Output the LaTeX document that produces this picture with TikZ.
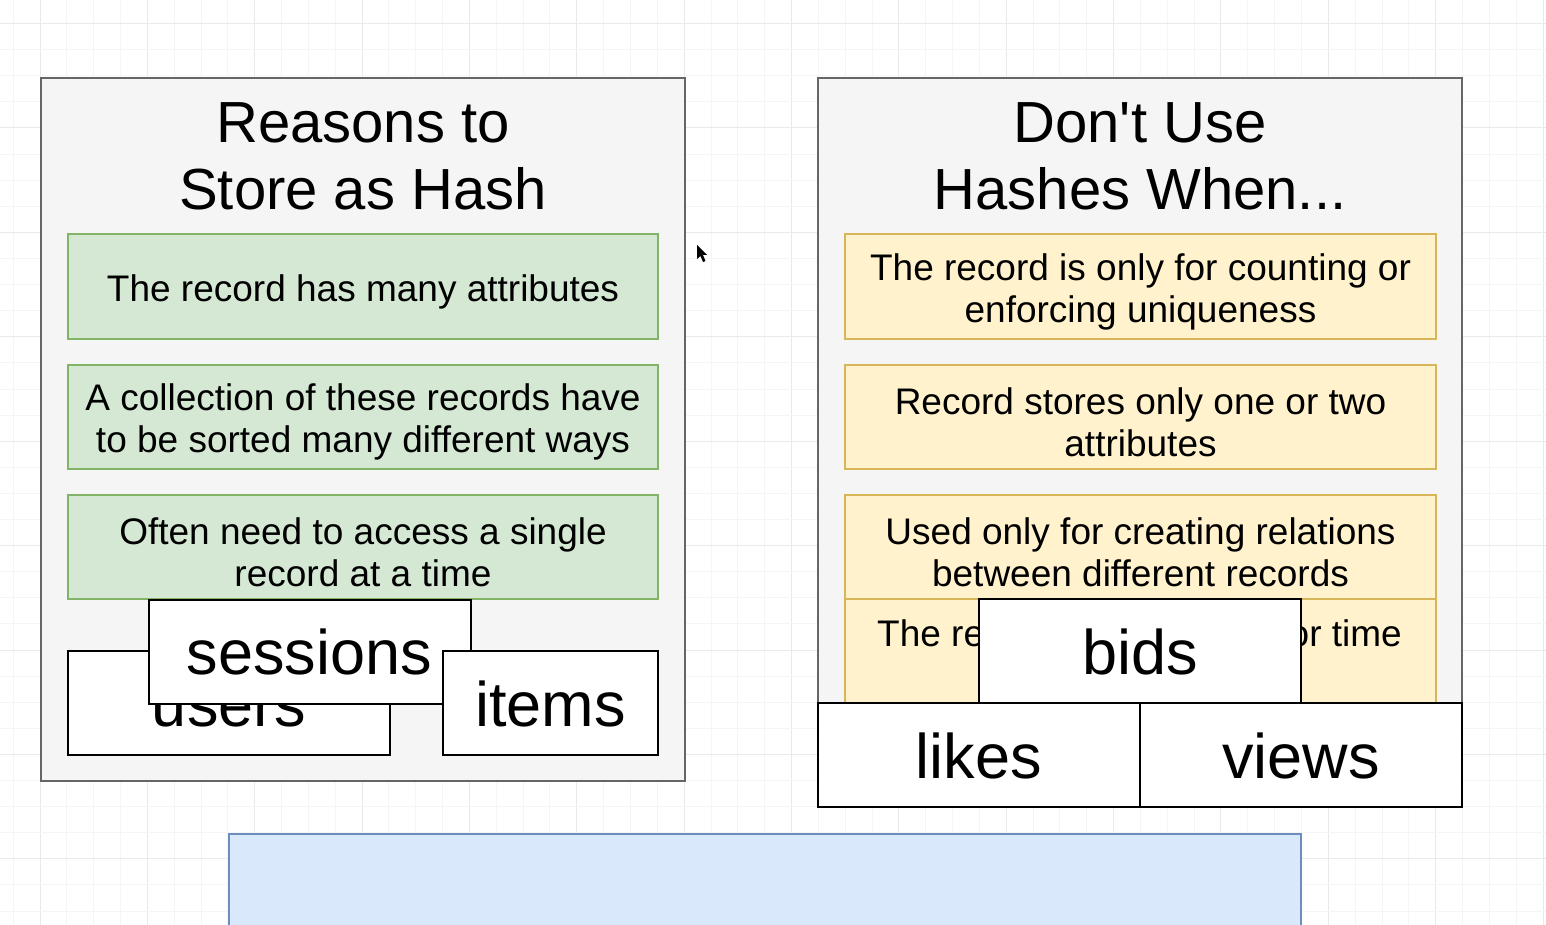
\documentclass[tikz,border=0pt]{standalone}
\usepackage{fontspec}
\setmainfont{Liberation Sans}[Ligatures=TeXOff]
\definecolor{panelfill}{HTML}{F5F5F5}
\definecolor{panelline}{HTML}{666666}
\definecolor{greenfill}{HTML}{D5E8D4}
\definecolor{greenline}{HTML}{82B366}
\definecolor{yellowfill}{HTML}{FFF2CC}
\definecolor{yellowline}{HTML}{D6B656}
\definecolor{bluefill}{HTML}{DAE8FC}
\definecolor{blueline}{HTML}{6C8EBF}
\definecolor{gridminor}{HTML}{F5F5F5}
\definecolor{gridmajor}{HTML}{EAEAEA}
\newcommand{\lowerstrut}{\rule{0pt}{37pt}}
\tikzset{
  panel/.style={draw=panelline, fill=panelfill, line width=2pt, inner sep=0pt,
    minimum width=644pt, minimum height=703pt},
  titletext/.style={inner sep=0pt, align=center, font=\fontsize{58}{67.5}\selectfont},
  greenbox/.style={draw=greenline, fill=greenfill, line width=2pt, inner sep=0pt,
    minimum width=590pt, minimum height=104pt, align=center,
    font=\fontsize{37}{42}\selectfont},
  yellowbox/.style={draw=yellowline, fill=yellowfill, line width=2pt, inner sep=0pt,
    minimum width=591pt, minimum height=104pt, align=center,
    font=\fontsize{37}{42}\selectfont},
  bodytext/.style={inner sep=0pt, font=\fontsize{37}{42}\selectfont},
  tablebox/.style={draw=black, fill=white, line width=2pt, inner sep=0pt,
    minimum width=322pt, minimum height=104pt, text height=46pt, text depth=0pt,
    font=\fontsize{63}{72}\selectfont},
  bluebox/.style={draw=blueline, fill=bluefill, line width=2pt, inner sep=0pt,
    minimum width=1072pt, minimum height=126pt}
}
\begin{document}
\begin{tikzpicture}[x=1pt,y=-1pt]
\clip (0,0) rectangle (1546,925);
\fill[white] (0,0) rectangle (1546,925);
% grid
\foreach \k in {-1,...,56}{
  \pgfmathtruncatemacro{\m}{mod(\k+4,4)}
  \ifnum\m=0 \draw[gridmajor, line width=1pt] ({40+26.84*\k},0) -- ({40+26.84*\k},925);
  \else \draw[gridminor, line width=1pt] ({40+26.84*\k},0) -- ({40+26.84*\k},925); \fi
}
\foreach \k in {-4,...,31}{
  \pgfmathtruncatemacro{\m}{mod(\k+8,4)}
  \ifnum\m=0 \draw[gridmajor, line width=1pt] (0,{128+26.1*\k}) -- (1546,{128+26.1*\k});
  \else \draw[gridminor, line width=1pt] (0,{128+26.1*\k}) -- (1546,{128+26.1*\k}); \fi
}
% left panel
\node[panel] (leftpanel) at (363,429.5) {};
\node[titletext, anchor=north] (lefttitle) at (363,102) {Reasons to\\Store as Hash};
\node[greenbox] (g1) at (363,286.5) {\lowerstrut The record has many attributes};
\node[greenbox] (g2) at (363,417) {\lowerstrut A collection of these records have\\to be sorted many different ways};
\node[greenbox] (g3) at (363,547) {\lowerstrut Often need to access a single\\record at a time};
\node[tablebox] (users) at (229,703) {users};
\node[tablebox] (sessions) at (309.5,651.5) {sessions};
\node[tablebox, minimum width=215pt] (items) at (550.5,703) {items};
% right panel
\node[panel] (rightpanel) at (1140,429.5) {};
\node[titletext, anchor=north] (righttitle) at (1140,102) {Don't Use\\Hashes When...};
\node[yellowbox] (y1) at (1140.5,286.5) {\lowerstrut The record is only for counting or\\enforcing uniqueness};
\node[yellowbox] (y2) at (1140.5,417) {\lowerstrut Record stores only one or two\\attributes};
\node[yellowbox] (y3) at (1140.5,547) {\lowerstrut Used only for creating relations\\between different records};
\node[yellowbox] (y4) at (1140.5,651) {};
\node[bodytext, anchor=base west] (y4a) at (877,646) {The re};
\node[bodytext, anchor=base east] (y4b) at (1402,646) {or time};
\node[tablebox] (bids) at (1140,651) {bids};
\node[tablebox] (likes) at (979,755) {likes};
\node[tablebox] (views) at (1301,755) {views};
% bottom blue box
\node[bluebox] (blue) at (765,897) {};
% mouse cursor
\fill[black] (697,245) -- (697,259) -- (700.5,256) -- (703,262) -- (705.5,261) -- (703,255) -- (707,255) -- cycle;
\end{tikzpicture}
\end{document}
